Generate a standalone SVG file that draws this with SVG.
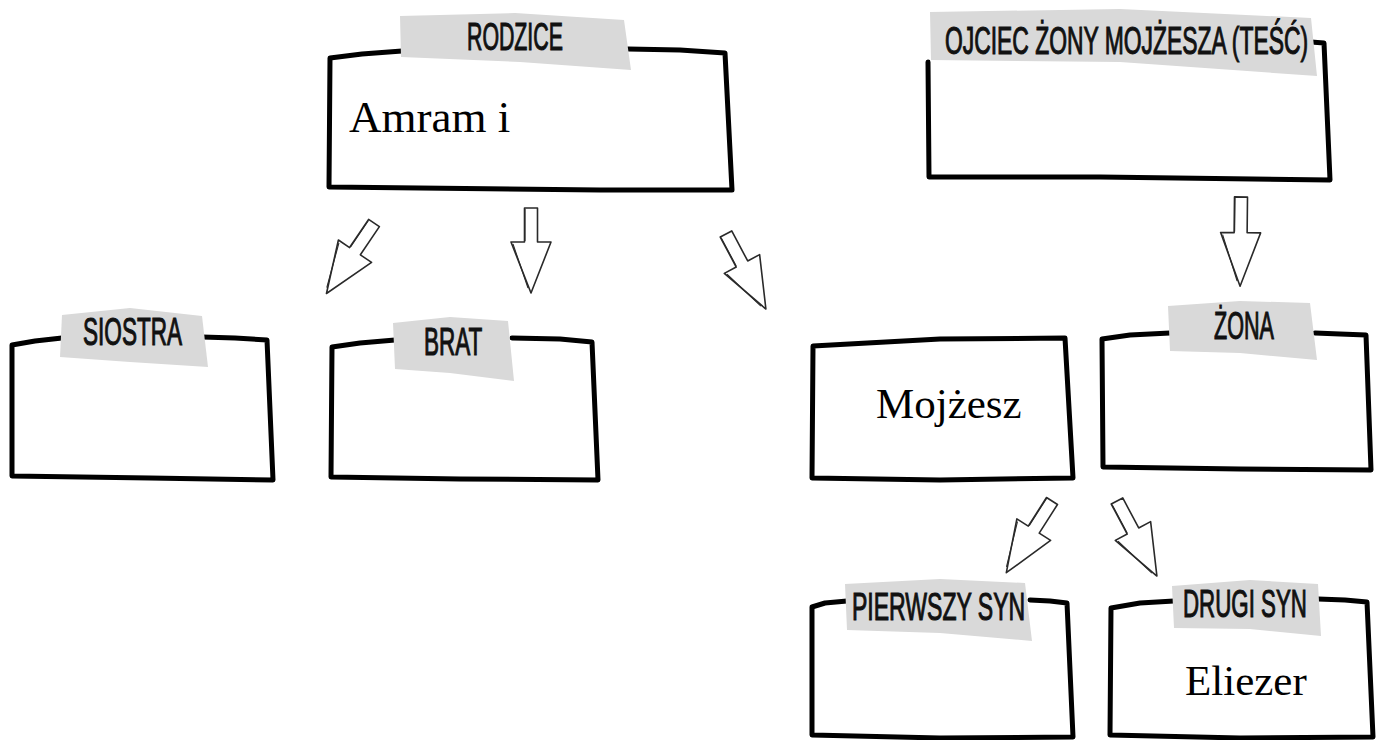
<svg xmlns="http://www.w3.org/2000/svg" width="1381" height="740" viewBox="0 0 1381 740">
<style>
.box{fill:none;stroke:#000000;stroke-width:5;stroke-linejoin:round;stroke-linecap:round}
.bg{fill:#ffffff;stroke:none}
.tab{fill:#d9d9d9;stroke:none}
.lbl{font-family:"Liberation Sans",Arial,sans-serif;font-size:38px;fill:#111111;stroke:#111111;stroke-width:1.1}
.txt{font-family:"Liberation Serif","Times New Roman",serif;fill:#000000}
.arr{fill:#ffffff;stroke:#2a2a2a;stroke-width:1.6;stroke-linejoin:round}
.sk{fill:none;stroke:#2a2a2a;stroke-width:1.1}
</style>
<defs>
<g id="arrow">
<path class="arr" d="M-6.5,0 L6.5,0 L6.5,34 L20,34 L0,85 L-20,34 L-6.5,34 Z"/>
<path class="sk" d="M-18,36 L-3,80 M-6,1 L-6,33"/>
</g>
</defs>
<rect width="1381" height="740" fill="#ffffff"/>

<g id="connectors">
<use href="#arrow" transform="translate(374,223) rotate(34)"/>
<use href="#arrow" transform="translate(531,208)"/>
<use href="#arrow" transform="translate(726,234) rotate(-28)"/>
<use href="#arrow" transform="translate(1241,197) rotate(0.6) scale(1,1.05)"/>
<use href="#arrow" transform="translate(1052,501) rotate(32.5)"/>
<use href="#arrow" transform="translate(1117,501) rotate(-28)"/>
</g>

<g id="node-rodzice">
<path class="bg" d="M329,187 L330,58 L725,52 L732,190 Z"/>
<path class="box" d="M402,51 L362,54 L330,58 L329,187 L600,190 L732,190 L725,53 L680,50 L628,49"/>
<path class="tab" d="M400,16 L515,13 L624,20 L631,70 L520,62 L401,57 Z"/>
<text class="lbl" transform="translate(467,50) scale(0.561,1)">RODZICE</text>
<text class="txt" x="349" y="132" font-size="45">Amram i</text>
</g>

<g id="node-ojciec">
<path class="bg" d="M928,58 L1324,42 L1330,180 L929,177 Z"/>
<path class="box" d="M1311,42 L1324,43 L1330,180 L1100,177 L929,177 L928,62"/>
<path class="tab" d="M930,12 L1120,9 L1311,18 L1317,76 L1120,62 L931,60 Z"/>
<text class="lbl" font-size="41" transform="translate(945,54) scale(0.602,1)">OJCIEC ŻONY MOJŻESZA (TEŚĆ)</text>
</g>

<g id="node-siostra">
<path class="bg" d="M12,476 L12,345 L267,340 L273,480 Z"/>
<path class="box" d="M62,338 L35,341 L12,345 L12,476 L150,478 L273,480 L267,340 L235,338 L202,337"/>
<path class="tab" d="M62,315 L130,308 L202,316 L208,367 L130,362 L60,357 Z"/>
<text class="lbl" transform="translate(83,345) scale(0.594,1)">SIOSTRA</text>
</g>

<g id="node-brat">
<path class="bg" d="M331,477 L332,347 L592,342 L598,480 Z"/>
<path class="box" d="M395,340 L360,343 L332,347 L331,477 L460,479 L598,480 L592,342 L560,339 L512,338"/>
<path class="tab" d="M393,323 L450,317 L508,321 L514,381 L450,373 L395,369 Z"/>
<text class="lbl" transform="translate(424,355) scale(0.592,1)">BRAT</text>
</g>

<g id="node-mojzesz">
<path class="box" d="M812,478 L813,346 L940,339 L1065,338 L1073,478 L940,480 Z"/>
<text class="txt" x="876" y="418" font-size="43">Mojżesz</text>
</g>

<g id="node-zona">
<path class="bg" d="M1103,467 L1102,339 L1366,335 L1371,470 Z"/>
<path class="box" d="M1170,333 L1130,335 L1102,339 L1103,467 L1240,469 L1371,470 L1366,335 L1340,334 L1315,333"/>
<path class="tab" d="M1168,306 L1240,301 L1310,303 L1317,360 L1240,353 L1170,351 Z"/>
<text class="lbl" transform="translate(1214,339) scale(0.568,1)">ŻONA</text>
</g>

<g id="node-pierwszy">
<path class="bg" d="M812,735 L812,607 L1067,603 L1073,737 Z"/>
<path class="box" d="M847,601 L825,603 L812,607 L812,735 L940,738 L1073,737 L1067,603 L1050,601 L1030,600"/>
<path class="tab" d="M845,584 L940,579 L1025,583 L1032,641 L940,633 L847,630 Z"/>
<text class="lbl" transform="translate(852,620) scale(0.606,1)">PIERWSZY SYN</text>
</g>

<g id="node-drugi">
<path class="bg" d="M1110,735 L1111,608 L1367,602 L1373,737 Z"/>
<path class="box" d="M1174,601 L1140,603 L1111,608 L1110,735 L1240,738 L1373,737 L1367,602 L1345,600 L1318,599"/>
<path class="tab" d="M1172,586 L1250,580 L1318,584 L1321,636 L1250,629 L1174,628 Z"/>
<text class="lbl" transform="translate(1183,617) scale(0.587,1)">DRUGI SYN</text>
<text class="txt" x="1185" y="695" font-size="43">Eliezer</text>
</g>
</svg>
